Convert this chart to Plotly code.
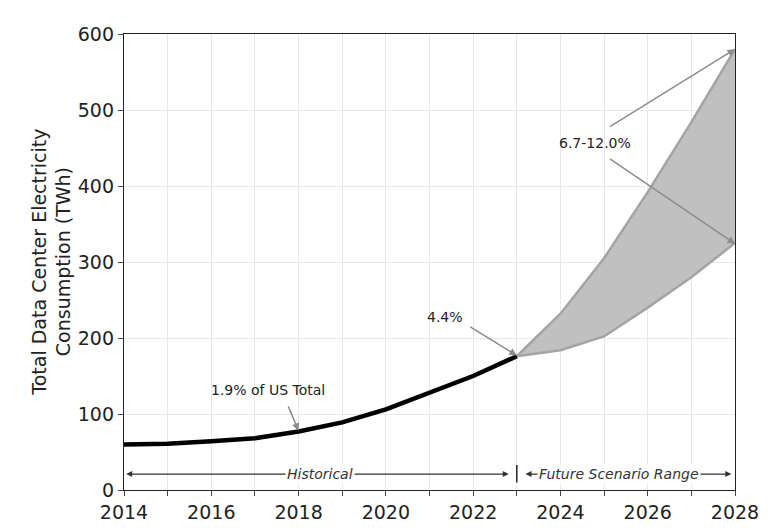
import plotly.graph_objects as go

hist_years = [2014, 2015, 2016, 2017, 2018, 2019, 2020, 2021, 2022, 2023]
hist_values = [60, 61, 64, 68, 77, 89, 106, 128, 150, 176]

future_years = [2023, 2024, 2025, 2026, 2027, 2028]
future_high = [176, 232, 305, 392, 484, 580]
future_low = [176, 184, 202, 240, 280, 325]

x_ticks = [2014, 2016, 2018, 2020, 2022, 2024, 2026, 2028]
y_ticks = [0, 100, 200, 300, 400, 500, 600]

fig = go.Figure()
fig.add_trace(go.Scatter(x=future_years, y=future_low, mode="lines",
                         line=dict(color="#a4a4a4", width=2.5), showlegend=False))
fig.add_trace(go.Scatter(x=future_years, y=future_high, mode="lines", fill="tonexty",
                         fillcolor="#c0c0c0",
                         line=dict(color="#a4a4a4", width=2.5), showlegend=False))
fig.add_trace(go.Scatter(x=hist_years, y=hist_values, mode="lines",
                         line=dict(color="black", width=4.5), showlegend=False))

font = "DejaVu Sans"
ann = []
arrow_grey = "#8c8c8c"

def arrow(x, y, ax, ay, text="", color=arrow_grey, side="end", width=1.5):
    ann.append(dict(x=x, y=y, ax=ax, ay=ay, xref="x", yref="y", axref="x", ayref="y",
                    text=text, showarrow=True, arrowhead=2, arrowsize=1, arrowwidth=width,
                    arrowcolor=color, arrowside=side, standoff=0, startstandoff=0))

def label(x, y, text, size=14, color="#222", bg=None):
    d = dict(x=x, y=y, xref="x", yref="y", text=text, showarrow=False,
             font=dict(family=font, size=size, color=color))
    if bg:
        d["bgcolor"] = bg
    ann.append(d)

# 1.9% annotation
arrow(2018.0, 78, 2017.75, 112)
label(2017.3, 131, "1.9% of US Total")
# 4.4%
arrow(2023.0, 177, 2021.9, 216)
label(2021.35, 228, "4.4%")
# 6.7-12.0%
arrow(2028.0, 580, 2025.1, 477)
arrow(2028.0, 324, 2025.1, 437)
label(2024.8, 457, "6.7-12.0%")

# Historical range arrow
arrow(2014.05, 21, 2022.85, 21, color="#333", side="end+start", width=1.2)
label(2018.5, 21, "<i>Historical</i>", color="#333", bg="white")
# Future range arrow
arrow(2023.2, 21, 2027.95, 21, color="#333", side="end+start", width=1.2)
label(2025.35, 21, "<i>Future Scenario Range</i>", color="#333", bg="white")

# y-axis title as rotated annotation
ann.append(dict(x=-0.12, y=0.5, xref="paper", yref="paper", showarrow=False,
                text="Total Data Center Electricity<br>Consumption (TWh)", textangle=-90,
                font=dict(family=font, size=19, color="#222"), xanchor="center", yanchor="middle"))

shapes = [dict(type="line", xref="x", yref="y", x0=2023, x1=2023, y0=10, y1=33,
               line=dict(color="#222", width=1.5))]

fig.update_layout(
    width=772, height=520,
    margin=dict(l=116, r=45, t=26, b=38, autoexpand=False),
    paper_bgcolor="white", plot_bgcolor="white",
    font=dict(family=font, size=19, color="#222"),
    annotations=ann, shapes=shapes,
    xaxis=dict(range=[2014, 2028], tickvals=x_ticks, ticks="outside", ticklen=5,
               showline=True, linecolor="#222", linewidth=1.3, mirror=True,
               showgrid=True, gridcolor="#e8e8e8", gridwidth=1, zeroline=False,
               minor=dict(dtick=1, showgrid=True, gridcolor="#e8e8e8", ticks="outside", ticklen=5),
               tickfont=dict(size=19), automargin=False),
    yaxis=dict(range=[0, 600], tickvals=y_ticks, ticks="outside", ticklen=5,
               showline=True, linecolor="#222", linewidth=1.3, mirror=True,
               showgrid=True, gridcolor="#e8e8e8", gridwidth=1, zeroline=False,
               tickfont=dict(size=19), automargin=False),
)

fig.write_html("out.html")
